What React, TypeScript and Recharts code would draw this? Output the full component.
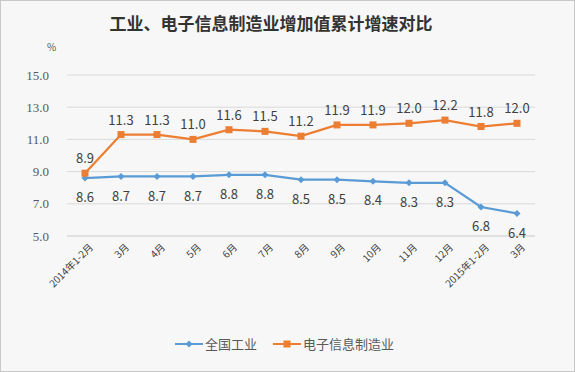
import React from 'react';
import {
  LineChart,
  Line,
  XAxis,
  YAxis,
  CartesianGrid,
  LabelList,
} from 'recharts';

const months = [
  '2014年1-2月', '3月', '4月', '5月', '6月', '7月', '8月',
  '9月', '10月', '11月', '12月', '2015年1-2月', '3月',
];
const industry = [8.6, 8.7, 8.7, 8.7, 8.8, 8.8, 8.5, 8.5, 8.4, 8.3, 8.3, 6.8, 6.4];
const electronics = [8.9, 11.3, 11.3, 11.0, 11.6, 11.5, 11.2, 11.9, 11.9, 12.0, 12.2, 11.8, 12.0];
const yTicks = [5, 7, 9, 11, 13, 15];

const BLUE = '#5b9bd5';
const ORANGE = '#ed7d31';
const CJK = '"Noto Sans CJK SC", "Noto Sans", sans-serif';

const data = months.map((m, i) => ({
  month: m,
  idx: i,
  industry: industry[i],
  electronics: electronics[i],
}));

const Diamond = (props: any) => {
  const { cx, cy } = props;
  if (cx == null || cy == null) return null;
  return <path d={`M${cx},${cy - 3.5}L${cx + 3.5},${cy}L${cx},${cy + 3.5}L${cx - 3.5},${cy}Z`} fill={BLUE} />;
};

const Square = (props: any) => {
  const { cx, cy } = props;
  if (cx == null || cy == null) return null;
  return <rect x={cx - 3.5} y={cy - 3.5} width={7} height={7} fill={ORANGE} />;
};

const XTick = (props: any) => {
  const { x, y, payload } = props;
  return (
    <g transform={`translate(${x + 6},${y + 1})`}>
      <text
        transform="rotate(-45)"
        textAnchor="end"
        fontSize={10}
        fill="#404040"
        fontFamily={CJK}
        dy={4}
      >
        {months[payload.index] ?? payload.value}
      </text>
    </g>
  );
};

export default function App() {
  return (
    <div
      style={{
        position: 'absolute',
        left: 0,
        top: 0,
        width: 573,
        height: 370,
        background: '#f7f7f7',
        border: '1px solid #c8c8c8',
      }}
    >
      <div
        style={{
          position: 'absolute',
          left: 0,
          top: 9,
          width: 540,
          textAlign: 'center',
          fontFamily: CJK,
          fontWeight: 'bold',
          fontSize: 17,
          color: '#333333',
        }}
      >
        工业、电子信息制造业增加值累计增速对比
      </div>
      <div
        style={{
          position: 'absolute',
          left: 46,
          top: 38,
          fontFamily: CJK,
          fontSize: 10,
          color: '#595959',
        }}
      >
        %
      </div>
      <LineChart
        width={575}
        height={372}
        data={data}
        margin={{ top: 75, right: 40, bottom: 56, left: 0 }}
        style={{ position: 'absolute', left: -1, top: -1 }}
      >
        <CartesianGrid vertical={false} stroke="#d9d9d9" />
        <XAxis
          dataKey="idx"
          interval={0}
          tick={<XTick />}
          tickLine={false}
          axisLine={{ stroke: '#d9d9d9' }}
          padding={{ left: 18, right: 18 }}
          height={80}
        />
        <YAxis
          domain={[5, 15]}
          ticks={yTicks}
          interval={0}
          width={67}
          tickLine={false}
          axisLine={false}
          tickMargin={12}
          tickFormatter={(v: number) => v.toFixed(1)}
          tick={{ fontSize: 13, fill: '#595959', fontFamily: '"Liberation Serif", serif' }}
        />
        <Line
          dataKey="industry"
          stroke={BLUE}
          strokeWidth={2.25}
          dot={<Diamond />}
          isAnimationActive={false}
        >
          <LabelList
            dataKey="industry"
            position="bottom"
            offset={15}
            formatter={(v: number) => v.toFixed(1)}
            style={{ fontSize: 13, fill: '#404040', fontFamily: CJK }}
          />
        </Line>
        <Line
          dataKey="electronics"
          stroke={ORANGE}
          strokeWidth={2.25}
          dot={<Square />}
          isAnimationActive={false}
        >
          <LabelList
            dataKey="electronics"
            position="top"
            offset={10}
            formatter={(v: number) => v.toFixed(1)}
            style={{ fontSize: 13, fill: '#404040', fontFamily: CJK }}
          />
        </Line>
      </LineChart>
      <div
        style={{
          position: 'absolute',
          left: 174,
          top: 333,
          display: 'flex',
          alignItems: 'center',
          fontFamily: CJK,
          fontSize: 13,
          color: '#595959',
        }}
      >
        <svg width={28} height={10}>
          <line x1={0} y1={5} x2={28} y2={5} stroke={BLUE} strokeWidth={2} />
          <path d="M14,1.5L17.5,5L14,8.5L10.5,5Z" fill={BLUE} />
        </svg>
        <span style={{ marginLeft: 2 }}>全国工业</span>
        <svg width={28} height={10} style={{ marginLeft: 16 }}>
          <line x1={0} y1={5} x2={28} y2={5} stroke={ORANGE} strokeWidth={2} />
          <rect x={10.5} y={1.5} width={7} height={7} fill={ORANGE} />
        </svg>
        <span style={{ marginLeft: 2 }}>电子信息制造业</span>
      </div>
    </div>
  );
}
